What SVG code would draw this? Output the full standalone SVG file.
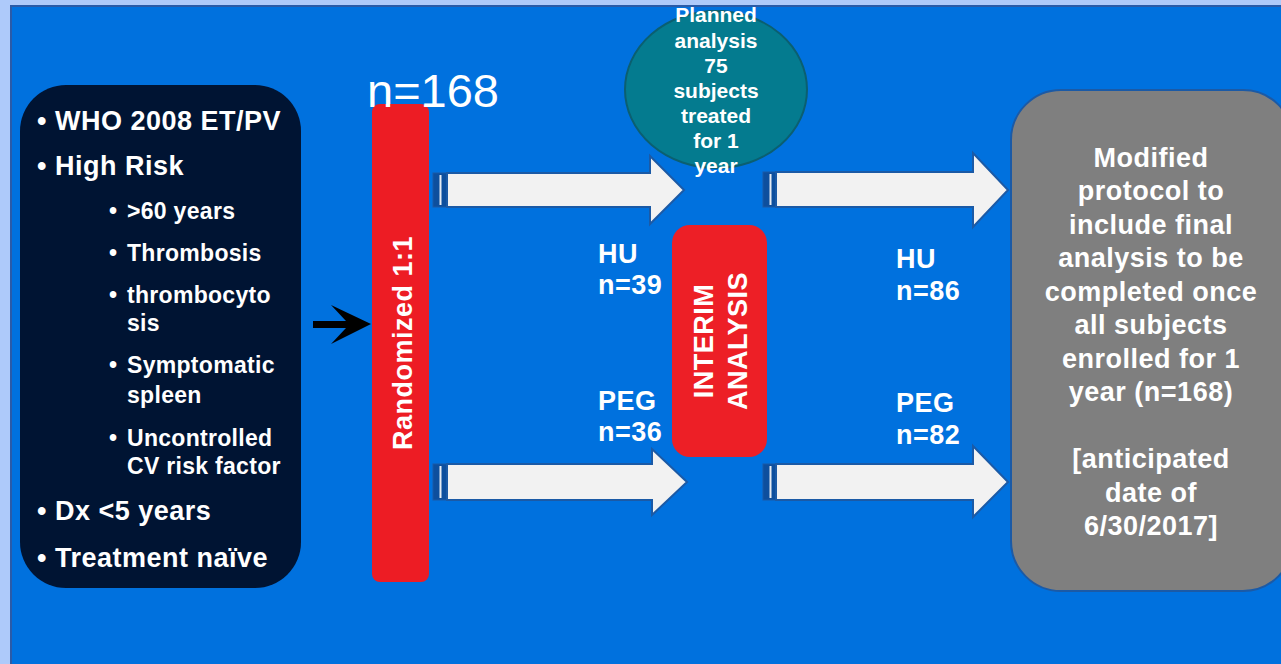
<svg xmlns="http://www.w3.org/2000/svg" width="1281" height="664" viewBox="0 0 1281 664">
<style>
.t{font-family:"Liberation Sans",Arial,sans-serif;font-weight:bold;fill:#ffffff;letter-spacing:0.5px}
.m{font-size:27px}
.s{font-size:23px;letter-spacing:0.3px}
.e{font-size:21px;letter-spacing:0}
.c{text-anchor:middle}
.arr{fill:#f2f2f2;stroke:#1b5aa6;stroke-width:2;stroke-linejoin:miter}
.stripe{fill:#0d4f9e;stroke:#1b5aa6;stroke-width:1}
.sl{fill:#e6ebf2}
</style>
<rect x="0" y="0" width="1281" height="664" fill="#aecafa"/>
<rect x="11" y="6" width="1280" height="670" fill="#0071de" stroke="#2a5ba8" stroke-width="2"/>

<g id="criteria">
<rect x="20" y="85" width="281" height="503" rx="46" ry="46" fill="#001433"/>
<text class="t m" x="37" y="130">•</text><text class="t m" x="55" y="130">WHO 2008 ET/PV</text>
<text class="t m" x="37" y="175">•</text><text class="t m" x="55" y="175">High Risk</text>
<text class="t s" x="109" y="219">•</text><text class="t s" x="127" y="219">&gt;60 years</text>
<text class="t s" x="109" y="261">•</text><text class="t s" x="127" y="261">Thrombosis</text>
<text class="t s" x="109" y="303">•</text><text class="t s" x="127" y="303">thrombocyto</text>
<text class="t s" x="127" y="331">sis</text>
<text class="t s" x="109" y="373">•</text><text class="t s" x="127" y="373">Symptomatic</text>
<text class="t s" x="127" y="403">spleen</text>
<text class="t s" x="109" y="446">•</text><text class="t s" x="127" y="446">Uncontrolled</text>
<text class="t s" x="127" y="474">CV risk factor</text>
<text class="t m" x="37" y="520">•</text><text class="t m" x="55" y="520">Dx &lt;5 years</text>
<text class="t m" x="37" y="567">•</text><text class="t m" x="55" y="567">Treatment naïve</text>
</g>

<g id="randomized">
<rect x="372" y="104" width="57" height="478" rx="8" ry="8" fill="#ed1c24"/>
<text class="t m c" transform="translate(412,343) rotate(-90)">Randomized 1:1</text>
<text x="367" y="107" font-family="'Liberation Sans',Arial,sans-serif" font-size="47" fill="#ffffff">n=168</text>
</g>

<g id="connectors">
<polygon points="313,321 346,321 331,305 371,324 331,344 346,328 313,328" fill="#000000"/>
<g id="arrow-hu-1">
<rect class="stripe" x="433" y="173" width="14" height="34"/>
<rect class="sl" x="439.5" y="175" width="2" height="30"/>
<polygon class="arr" points="447,173 650,173 650,156 684,190 650,224 650,207 447,207"/>
</g>
<g id="arrow-peg-1">
<rect class="stripe" x="433" y="464" width="14" height="36"/>
<rect class="sl" x="439.5" y="466" width="2" height="32"/>
<polygon class="arr" points="447,464 652,464 652,449 687,482 652,515 652,500 447,500"/>
</g>
<g id="arrow-hu-2">
<rect class="stripe" x="763" y="172" width="13" height="35"/>
<rect class="sl" x="769.5" y="174" width="2" height="31"/>
<polygon class="arr" points="776,172 973,172 973,153 1008,190 973,227 973,207 776,207"/>
</g>
<g id="arrow-peg-2">
<rect class="stripe" x="763" y="464" width="13" height="36"/>
<rect class="sl" x="769.5" y="466" width="2" height="32"/>
<polygon class="arr" points="776,464 973,464 973,446 1008,482 973,517 973,500 776,500"/>
</g>
</g>

<g id="planned">
<ellipse cx="716" cy="89.5" rx="91" ry="78.5" fill="#047b8f" stroke="#0b5f70" stroke-width="2"/>
<text class="t e c" x="716" y="22">Planned</text>
<text class="t e c" x="716" y="48">analysis</text>
<text class="t e c" x="716" y="73">75</text>
<text class="t e c" x="716" y="98">subjects</text>
<text class="t e c" x="716" y="123">treated</text>
<text class="t e c" x="716" y="148">for 1</text>
<text class="t e c" x="716" y="173">year</text>
</g>

<g id="interim">
<rect x="672" y="225" width="95" height="232" rx="18" ry="18" fill="#ed1f26"/>
<text class="t m c" transform="translate(713,341) rotate(-90)">INTERIM</text>
<text class="t m c" transform="translate(747,341) rotate(-90)">ANALYSIS</text>
</g>

<g id="labels">
<text class="t m" x="598" y="263">HU</text>
<text class="t m" x="598" y="294">n=39</text>
<text class="t m" x="598" y="410">PEG</text>
<text class="t m" x="598" y="441">n=36</text>
<text class="t m" x="896" y="268">HU</text>
<text class="t m" x="896" y="300">n=86</text>
<text class="t m" x="896" y="412">PEG</text>
<text class="t m" x="896" y="444">n=82</text>
</g>

<g id="final">
<rect x="1011" y="90" width="282" height="501" rx="50" ry="50" fill="#7f7f7f" stroke="#1b5aa6" stroke-width="2"/>
<text class="t m c" x="1151" y="167">Modified</text>
<text class="t m c" x="1151" y="200">protocol to</text>
<text class="t m c" x="1151" y="234">include final</text>
<text class="t m c" x="1151" y="267">analysis to be</text>
<text class="t m c" x="1151" y="301">completed once</text>
<text class="t m c" x="1151" y="334">all subjects</text>
<text class="t m c" x="1151" y="368">enrolled for 1</text>
<text class="t m c" x="1151" y="401">year (n=168)</text>
<text class="t m c" x="1151" y="468">[anticipated</text>
<text class="t m c" x="1151" y="502">date of</text>
<text class="t m c" x="1151" y="535">6/30/2017]</text>
</g>
</svg>
